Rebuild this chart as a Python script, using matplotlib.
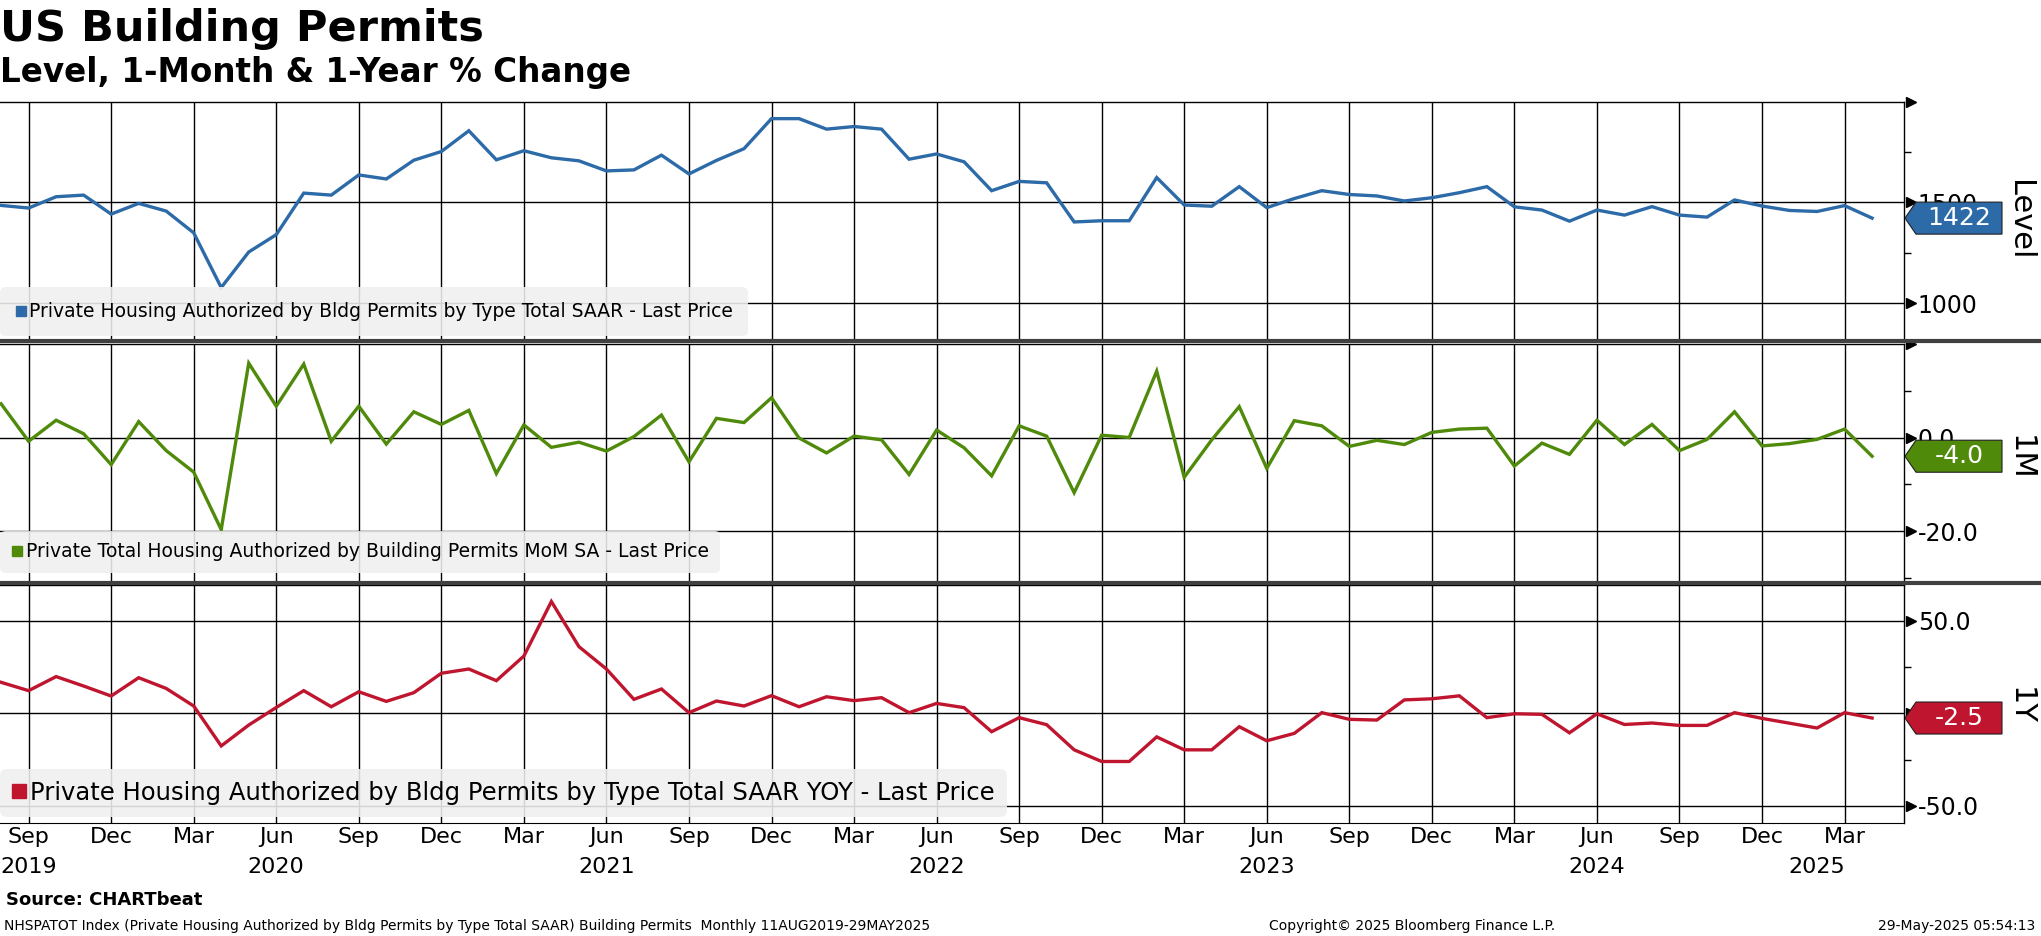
import numpy as np
import matplotlib.pyplot as plt
from matplotlib.lines import Line2D
from matplotlib.patches import Polygon

# monthly observations, Aug 2019 .. Apr 2025
start_year, start_month = 2019, 8

level = [1485, 1472, 1528, 1536, 1442, 1495, 1457, 1349, 1078, 1254, 1340, 1546, 1536, 1636, 1616,
         1709, 1752, 1855, 1711, 1756, 1721, 1706, 1656, 1661, 1734, 1641, 1708, 1766, 1915, 1915,
         1863, 1876, 1863, 1714, 1740, 1701, 1558, 1604, 1597, 1403, 1409, 1409, 1623, 1487, 1481,
         1578, 1474, 1519, 1558, 1539, 1532, 1507, 1523, 1548, 1578, 1478, 1462, 1407, 1462, 1437,
         1479, 1437, 1427, 1512, 1482, 1460, 1455, 1484, 1422]

mom = [7.2, -0.8, 3.7, 0.8, -5.8, 3.4, -2.8, -7.4, -19.7, 15.9, 6.7, 15.7, -0.8, 6.7, -1.4, 5.5,
       2.8, 5.8, -7.7, 2.7, -2.1, -1.0, -2.9, 0.2, 4.8, -5.2, 4.1, 3.2, 8.5, -0.1, -3.3, 0.3, -0.5,
       -7.9, 1.6, -2.2, -8.2, 2.5, 0.3, -11.8, 0.5, 0.0, 14.2, -8.5, -0.5, 6.6, -6.6, 3.6, 2.5,
       -1.9, -0.6, -1.5, 1.1, 1.8, 2.0, -6.1, -1.2, -3.6, 3.7, -1.5, 2.8, -2.8, -0.4, 5.5, -1.8,
       -1.3, -0.4, 1.8, -4.0]

yoy = [16.8, 12.3, 19.9, 14.8, 9.4, 19.3, 13.5, 4.0, -17.6, -6.3, 3.2, 12.3, 3.6, 11.7, 6.5, 11.2,
       21.7, 24.0, 17.7, 31.0, 60.5, 36.1, 24.0, 7.6, 13.2, 0.4, 6.7, 4.0, 9.6, 3.6, 9.0, 6.9, 8.5,
       0.4, 5.4, 3.1, -9.9, -2.3, -6.1, -19.7, -26.0, -26.0, -12.7, -19.7, -19.7, -7.2, -14.8,
       -10.8, 0.4, -3.2, -3.6, 7.3, 7.9, 9.5, -2.3, -0.2, -0.5, -10.5, -0.2, -6.0, -5.2, -6.5,
       -6.5, 0.4, -2.7, -5.3, -7.9, 0.4, -2.5]

month_names = ['Jan', 'Feb', 'Mar', 'Apr', 'May', 'Jun', 'Jul', 'Aug', 'Sep', 'Oct', 'Nov', 'Dec']

legend_texts = ['Private Housing Authorized by Bldg Permits by Type Total SAAR - Last Price',
                'Private Total Housing Authorized by Building Permits MoM SA - Last Price',
                'Private Housing Authorized by Bldg Permits by Type Total SAAR YOY - Last Price']
panel_names = ['Level', '1M', '1Y']
last_labels = ['1422', '-4.0', '-2.5']

blue = '#2c6aa8'
green = '#4f8a0b'
red = '#c0152f'

W, H = 2041, 936
fig = plt.figure(figsize=(W / 100, H / 100), dpi=100)

x = np.arange(len(level))
month_of = [(start_month - 1 + i) % 12 for i in x]
year_of = [start_year + (start_month - 1 + i) // 12 for i in x]
quarter_idx = [i for i in x if month_of[i] in (2, 5, 8, 11)]
xlim = (-0.04, 69.16)

ax_right = 1904 / W


def frac(top_px, bottom_px):
    return [0.0, 1 - bottom_px / H, ax_right, (bottom_px - top_px) / H]


def draw_panel(rect, values, color, ylim, arrows, labeled, fmt, minor, legend_text, legend_fs,
               legend_pad, legend_y, name, last_label, name_y):
    ax = fig.add_axes(rect)
    ax.plot(x, values, color=color, lw=2.4, solid_joinstyle='miter', zorder=3)
    ax.set_xlim(*xlim)
    ax.set_ylim(*ylim)

    # grid: quarter verticals and labelled horizontals
    ax.set_xticks(quarter_idx)
    ax.set_yticks(labeled)
    ax.set_yticklabels([fmt.format(v) for v in labeled])
    ax.set_yticks(minor, minor=True)
    ax.grid(True, which='major', color='black', lw=1.0)
    ax.yaxis.tick_right()
    ax.tick_params(axis='y', which='major', length=0, pad=10, labelsize=17)
    ax.tick_params(axis='y', which='minor', length=5, width=1, direction='out')
    ax.tick_params(axis='x', length=0, labelbottom=False)

    for s in ['left', 'bottom']:
        ax.spines[s].set_visible(False)
    for s in ['right', 'top']:
        ax.spines[s].set_color('black')
        ax.spines[s].set_linewidth(1.0)

    # little arrow heads on the right axis
    for v in arrows:
        ax.plot([1.0035], [v], marker='>', ms=7, color='black', transform=ax.get_yaxis_transform(),
                clip_on=False, zorder=5)

    # legend box
    handle = Line2D([], [], marker='s', ls='', color=color, markersize=legend_fs * 0.55)
    leg = ax.legend([handle], [legend_text], loc='lower left', bbox_to_anchor=(0.0, legend_y),
                    borderaxespad=0, frameon=True, fancybox=True, facecolor='#f0f0f0',
                    edgecolor='none', framealpha=0.88, handlelength=0.6, handletextpad=0.15,
                    borderpad=legend_pad, prop={'size': legend_fs})
    leg.get_frame().set_boxstyle('round', pad=0.0, rounding_size=0.3)
    leg.set_zorder(6)

    # last value tag
    yc = ax.transData.transform((0, values[-1]))[1]
    x0 = ax_right * W + 1
    x1 = 2002
    h = 32
    pts = [(x0, yc), (x0 + 11, yc + h / 2), (x1, yc + h / 2), (x1, yc - h / 2), (x0 + 11, yc - h / 2)]
    pts = [(px / W, py / H) for px, py in pts]
    fig.add_artist(Polygon(pts, closed=True, facecolor=color, edgecolor='#202020', lw=0.8,
                           transform=fig.transFigure, zorder=10))
    fig.text((x0 + 11 + x1) / 2 / W, yc / H, last_label, color='white', fontsize=18,
             ha='center', va='center', zorder=11)

    fig.text(2020 / W, 1 - name_y / H, name, rotation=270, fontsize=22, ha='center', va='center')
    return ax


ax1 = draw_panel(frac(101.5, 341), level, blue, (813, 2000), [1000, 1500, 2000], [1000, 1500],
                 '{:.0f}', [1250, 1750], legend_texts[0], 13.5, 0.8, 0.02, panel_names[0],
                 last_labels[0], 220)
ax2 = draw_panel(frac(344, 580.6), mom, green, (-30.6, 20), [-20, 0, 20], [-20, 0],
                 '{:.1f}', [-30, -10, 10], legend_texts[1], 13.5, 0.62, 0.032, panel_names[1],
                 last_labels[1], 458)
ax3 = draw_panel(frac(584.5, 822.7), yoy, red, (-59.1, 69.7), [-50, 0, 50], [-50, 0, 50],
                 '{:.1f}', [-25, 25], legend_texts[2], 17.5, 0.5, 0.024, panel_names[2],
                 last_labels[2], 706)

# bottom axis of the last panel
ax3.spines['bottom'].set_visible(True)
ax3.spines['bottom'].set_color('black')
ax3.tick_params(axis='x', labelbottom=True, labelsize=16, pad=3)
ax3.set_xticklabels([month_names[month_of[i]] for i in quarter_idx])

# year labels, centred on the part of each year in view
for yr in sorted(set(year_of)):
    idx = [i for i in x if year_of[i] == yr]
    lo = max(idx[0] - 1, xlim[0])
    hi = min(idx[-1], xlim[1])
    mid = (lo + hi) / 2
    ha = 'center'
    if yr == year_of[0]:
        mid, ha = xlim[0] + 0.02, 'left'
    ax3.text(mid, -0.185, str(yr), transform=ax3.get_xaxis_transform(), fontsize=16,
             ha=ha, va='center')

# thick separators between the panels
for ypx in [341, 582.5]:
    fig.add_artist(Line2D([0, 1], [1 - ypx / H, 1 - ypx / H], transform=fig.transFigure,
                          color='#404040', lw=3.0, zorder=4))

# titles
fig.text(0.0, 1 - 8 / H, 'US Building Permits', fontsize=31, fontweight='bold', va='top')
fig.text(0.0, 1 - 56 / H, 'Level, 1-Month & 1-Year % Change', fontsize=23.5, fontweight='bold',
         va='top')

# footer
fig.text(6 / W, 1 - 900 / H, 'Source: CHARTbeat', fontsize=13, fontweight='bold', va='center')
fig.text(4 / W, 1 - 926 / H,
         'NHSPATOT Index (Private Housing Authorized by Bldg Permits by Type Total SAAR) '
         'Building Permits  Monthly 11AUG2019-29MAY2025', fontsize=10, va='center')
fig.text(1269 / W, 1 - 926 / H, 'Copyright\u00a9 2025 Bloomberg Finance L.P.', fontsize=10,
         va='center')
fig.text(2035 / W, 1 - 926 / H, '29-May-2025 05:54:13', fontsize=10, va='center', ha='right')

fig.savefig('out.png', dpi=100)
